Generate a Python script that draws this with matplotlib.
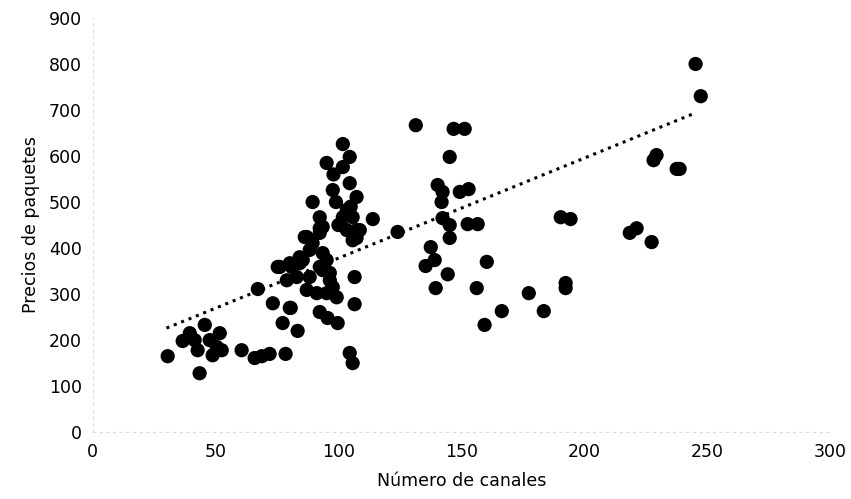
import numpy as np
import matplotlib.pyplot as plt

# Número de canales vs. precio del paquete
canales = [30.5, 36.6, 39.5, 45.6, 51.7, 52.5, 42.7, 50.5, 43.5, 41.5, 47.6, 48.8,
           60.6, 65.9, 68.8, 72.0, 78.5, 77.3, 83.4, 67.2, 73.3, 80.6, 75.3, 79.0,
           85.5, 92.4, 95.6, 99.7, 104.6, 105.8, 106.6, 106.6,
           101.8, 95.2, 104.6, 101.8, 97.7, 104.6, 107.4, 103.4, 105.8, 101.8,
           103.4, 107.4, 105.8, 114.0, 89.5, 92.4, 93.6, 87.1, 89.5, 84.2, 95.2,
           86.3, 92.4, 107.4, 76.1, 80.2, 84.2, 83.0, 88.3, 93.6, 96.5, 87.1,
           91.2, 95.2, 97.7, 99.3, 80.2,
           108.7, 88.3, 93.6, 81.0, 92.4, 96.5, 92.4, 98.0, 99.0, 105.0, 100.0,
           131.5, 146.9, 151.4, 145.3, 140.4, 142.4, 142.0, 149.4, 153.0, 142.4,
           145.3, 145.3, 152.6, 156.7, 124.1, 137.6, 139.2, 135.5, 144.5, 139.6,
           156.3, 160.4, 166.5, 159.5, 177.5, 183.6, 192.5, 192.5, 190.5, 194.5,
           218.6, 245.4, 247.5, 229.5, 228.3, 237.7, 238.9, 221.4, 227.5]
precios = [165, 198, 215, 233, 215, 178, 178, 185, 128, 200, 200, 167,
           178, 161, 165, 170, 170, 237, 220, 311, 280, 270, 359, 330,
           374, 261, 248, 237, 172, 150, 337, 278,
           626, 585, 598, 576, 526, 541, 511, 483, 467, 467,
           439, 439, 417, 463, 500, 467, 446, 424, 411, 380, 374,
           424, 433, 422, 359, 367, 367, 337, 337, 352, 330, 309,
           302, 302, 315, 293, 270,
           439, 396, 389, 359, 359, 346, 443, 560, 500, 490, 450,
           667, 659, 659, 598, 537, 522, 500, 522, 528, 465,
           450, 422, 452, 452, 435, 402, 374, 361, 343, 313,
           313, 370, 263, 233, 302, 263, 324, 313, 467, 463,
           433, 800, 730, 602, 591, 572, 572, 443, 413]

# línea de tendencia (extremos)
tendencia_x = [30, 245]
tendencia_y = [226, 693]

fig = plt.figure(figsize=(8.51, 4.99), dpi=100)
ax = fig.add_axes([0.109, 0.134, 0.866, 0.830])

ax.scatter(canales, precios, s=105, color='black', edgecolors='none', zorder=3)
ax.plot(tendencia_x, tendencia_y, color='black', linestyle=(0, (1, 1.6)),
        linewidth=2.2, zorder=2)

ax.set_xlim(0, 300)
ax.set_ylim(0, 900)
ax.set_xticks(range(0, 301, 50))
ax.set_yticks(range(0, 901, 100))
ax.tick_params(length=0, labelsize=12.5, pad=8)

for s in ['top', 'right']:
    ax.spines[s].set_visible(False)
for s in ['left', 'bottom']:
    ax.spines[s].set_color('#dddddd')
    ax.spines[s].set_linewidth(0.8)
    ax.spines[s].set_linestyle((0, (2, 4)))

ax.set_xlabel('Número de canales', fontsize=12.5, labelpad=8)
ax.set_ylabel('Precios de paquetes', fontsize=12.5, labelpad=6)

fig.savefig('out.png', dpi=100, facecolor='white')
